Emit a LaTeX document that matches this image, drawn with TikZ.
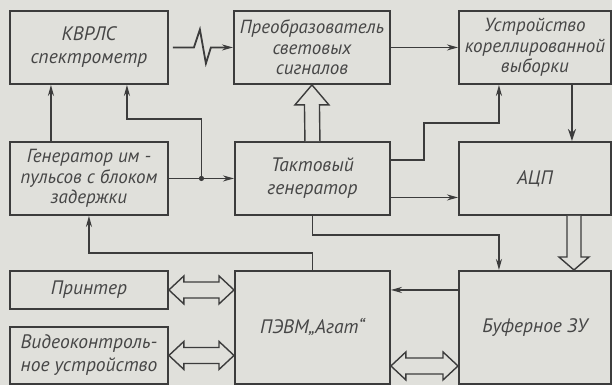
\documentclass[tikz,border=0pt]{standalone}
\usepackage{fontspec}
\setmainfont{PT Sans}
\usetikzlibrary{arrows.meta,calc}
\definecolor{bg}{RGB}{224,224,219}
\definecolor{ink}{RGB}{60,60,60}
\definecolor{txt}{RGB}{70,70,70}
\newcommand{\dblhollow}[2]{%
  \draw[hollow] (#1) -- ($(#1)+(15,-14)$) -- ($(#1)+(15,-8)$) -- ($(#2)+(-15,-8)$) -- ($(#2)+(-15,-14)$) -- (#2)
   -- ($(#2)+(-15,14)$) -- ($(#2)+(-15,8)$) -- ($(#1)+(15,8)$) -- ($(#1)+(15,14)$) -- cycle;}
\begin{document}
\begin{tikzpicture}[x=1pt,y=-1pt,
  box/.style={draw=ink, line width=1.9pt, inner sep=0pt, font=\fontsize{19.5}{23}\selectfont\itshape, text=txt, align=center, anchor=north west},
  three/.style={font=\fontsize{19}{20.5}\selectfont\itshape},
  conn/.style={draw=ink, line width=1.8pt},
  arr/.style={conn, -{Stealth[length=11pt,width=6pt]}},
  hollow/.style={draw=ink, line width=1.4pt, fill=bg, line join=miter}]
\fill[bg] (0,0) rectangle (612,385);
\useasboundingbox (0,0) rectangle (612,385);
% boxes
\node[box, minimum width=158pt, minimum height=73pt] (kv) at (9,10) {КВРЛС\\спектрометр};
\node[box, three, minimum width=156pt, minimum height=73pt] (pr) at (233,10) {Преобразователь\\световых\\сигналов};
\node[box, three, minimum width=152pt, minimum height=73pt] (us) at (458,10) {Устройство\\кореллированной\\выборки};
\node[box, three, minimum width=158pt, minimum height=73pt] (gen) at (9,141) {Генератор им -\\пульсов с блоком\\задержки};
\node[box, minimum width=155pt, minimum height=73pt] (tk) at (234,141) {Тактовый\\генератор};
\node[box, minimum width=152pt, minimum height=73pt] (adc) at (458,141) {АЦП};
\node[box, minimum width=158pt, minimum height=38pt] (prn) at (9,270) {Принтер};
\node[box, minimum width=158pt, minimum height=57pt] (vid) at (9,326) {Видеоконтроль-\\ное устройство};
\node[box, minimum width=155pt, minimum height=113pt] (pc) at (234,270) {ПЭВМ„Агат“};
\node[box, minimum width=152pt, minimum height=113pt] (buf) at (458,270) {Буферное ЗУ};
% signal with zigzag
\draw[arr] ([xshift=4pt]kv.east) -- ++(21,0) -- ++(6,-18) -- ++(6,34) -- ++(5,-16) -- (pr.west);
\draw[arr] (pr.east) -- (us.west);
\draw[conn, line width=2.8pt, -{Stealth[length=12pt,width=8pt]}] ([xshift=37pt]us.south) -- ([xshift=37pt]adc.north);
% generator
\draw[arr] ([xshift=-38pt]gen.north) -- ([xshift=-38pt]kv.south);
\coordinate (j) at ($(gen.east)!0.5!(tk.west)$);
\draw[arr] (gen.east) -- (tk.west);
\draw[arr] (j) -- ++(0,-59.5) -| ([xshift=38pt]kv.south);
\fill[ink] (j) circle (2.6pt);
% clock generator outputs
\draw[arr] ([yshift=18.5pt]tk.east) -- ++(33,0) -- ++(0,-37) -| ([xshift=-36pt]us.south);
\draw[arr] ([yshift=-19pt]tk.east) -- ([yshift=-19pt]adc.west);
\draw[arr] (tk.south) -- ++(0,19) -| ([xshift=-36pt]buf.north);
\draw[arr] (pc.north) -- ++(0,-17) -| (gen.south);
\draw[arr] ([yshift=37.5pt]buf.west) -- ([yshift=37.5pt]pc.east);
% hollow arrows
\draw[hollow] ([xshift=-7.5pt]tk.north) -- ([xshift=-7.5pt,yshift=-20pt]pr.south) -- ([xshift=-17pt,yshift=-20pt]pr.south) -- (pr.south) -- ([xshift=17pt,yshift=-20pt]pr.south) -- ([xshift=7.5pt,yshift=-20pt]pr.south) -- ([xshift=7.5pt]tk.north);
\coordinate (a1) at ([xshift=39pt]adc.south);
\coordinate (a2) at ([xshift=39pt]buf.north);
\draw[hollow] ([xshift=-7pt]a1) -- ([xshift=-7pt,yshift=13pt]a2) -- ([xshift=-15pt,yshift=13pt]a2) -- (a2) -- ([xshift=15pt,yshift=13pt]a2) -- ([xshift=7pt,yshift=13pt]a2) -- ([xshift=7pt]a1);
\coordinate (p1) at (prn.east);
\coordinate (p2) at (prn.east -| pc.west);
\dblhollow{p1}{p2}
\coordinate (v1) at (vid.east);
\coordinate (v2) at (vid.east -| pc.west);
\dblhollow{v1}{v2}
\coordinate (b1) at ([yshift=-38.5pt]pc.east);
\coordinate (b2) at ([yshift=-38.5pt]buf.west);
\dblhollow{b1}{b2}
\end{tikzpicture}
\end{document}
